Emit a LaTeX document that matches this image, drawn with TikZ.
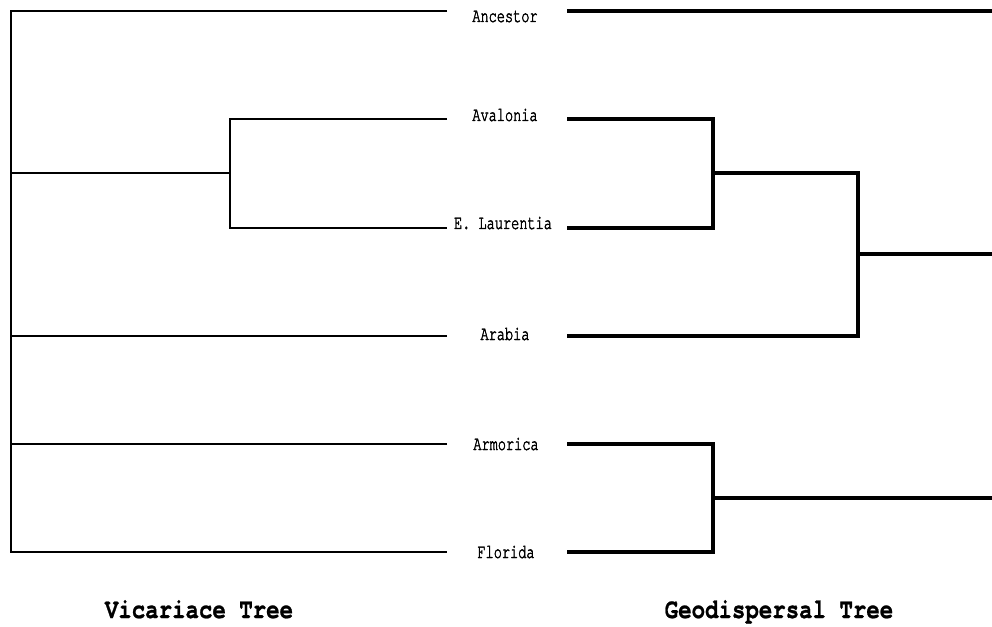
\documentclass[tikz,border=0pt]{standalone}
\usepackage{fontspec}
\newfontfamily\treefont[FakeStretch=0.68,FakeBold=2]{texgyrecursor-regular.otf}
\newfontfamily\titlefont[FakeStretch=0.8,FakeBold=0.8]{texgyrecursor-bold.otf}
\usepackage{tikz}

\tikzset{
  taxon/.style={font=\treefont\fontsize{15}{17}\selectfont, anchor=base},
  treetitle/.style={font=\titlefont\fontsize{21}{24}\selectfont, anchor=base},
  vic/.style={line width=2.2pt},
  geo/.style={line width=2.8pt}
}

\begin{document}
\begin{tikzpicture}[x=0.75pt,y=-0.75pt]
   \useasboundingbox (0,0) rectangle (992,627);

   % area labels
   \draw (505,22) node[taxon] (anc) {Ancestor};
   \draw (505,121) node[taxon] (ava) {Avalonia};
   \draw (503,229) node[taxon] (lau) {E. Laurentia};
   \draw (505,340) node[taxon] (ara) {Arabia};
   \draw (506,450) node[taxon] (arm) {Armorica};
   \draw (506,558) node[taxon] (flo) {Florida};

   % tips of both trees
   \coordinate (lAnc) at (447,11);  \coordinate (rAnc) at (567,11);
   \coordinate (lAva) at (447,119); \coordinate (rAva) at (567,119);
   \coordinate (lLau) at (447,228); \coordinate (rLau) at (567,228);
   \coordinate (lAra) at (447,336); \coordinate (rAra) at (567,336);
   \coordinate (lArm) at (447,444); \coordinate (rArm) at (567,444);
   \coordinate (lFlo) at (447,552); \coordinate (rFlo) at (567,552);

   % vicariance tree
   \coordinate (lRoot) at (11,552);
   \coordinate (lClade) at (230,173);
   \draw[vic] (lAnc) -| (lRoot) |- (lFlo);
   \draw[vic] (lAva) -| (lClade) |- (lLau);
   \draw[vic] (lClade) -- (lClade -| lRoot);
   \draw[vic] (lAra) -- (lAra -| lRoot);
   \draw[vic] (lArm) -- (lArm -| lRoot);

   % geodispersal tree
   \coordinate (gAL) at (713,173);
   \coordinate (gALA) at (858,254);
   \coordinate (gAF) at (713,498);
   \coordinate (gOut0) at (992,11);
   \coordinate (gOut1) at (992,254);
   \coordinate (gOut2) at (992,498);
   \draw[geo] (rAnc) -- (gOut0);
   \draw[geo] (rAva) -| (gAL) |- (rLau);
   \draw[geo] (gAL) -| (gALA) |- (rAra);
   \draw[geo] (gALA) -- (gOut1);
   \draw[geo] (rArm) -| (gAF) |- (rFlo);
   \draw[geo] (gAF) -- (gOut2);

   \draw (199,618) node[treetitle] (vtitle) {Vicariace Tree};
   \draw (779,618) node[treetitle] (gtitle) {Geodispersal Tree};
\end{tikzpicture}
\end{document}
